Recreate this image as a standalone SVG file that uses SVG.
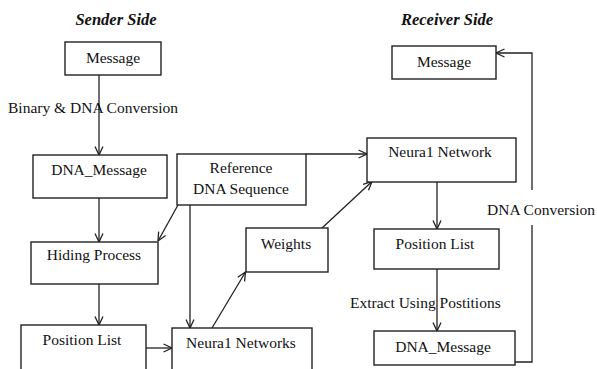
<svg xmlns="http://www.w3.org/2000/svg" width="597" height="369" viewBox="0 0 597 369">
  <defs>
    <marker id="arrow" viewBox="0 0 10 10" refX="9.5" refY="5" markerWidth="10" markerHeight="10" markerUnits="userSpaceOnUse" orient="auto">
      <path d="M1,1 L9.5,5 L1,9" fill="none" stroke="#222" stroke-width="1.3"/>
    </marker>
  </defs>
  <style>
    .box { fill: #fff; stroke: #222; stroke-width: 1.4; }
    .lbl { font-family: "Liberation Serif", "Times New Roman", serif; font-size: 15.5px; fill: #111; }
    .mid { text-anchor: middle; }
    .title { font-family: "Liberation Serif", "Times New Roman", serif; font-size: 16.5px; font-weight: bold; font-style: italic; fill: #111; text-anchor: middle; }
    .wire { fill: none; stroke: #222; stroke-width: 1.3; }
    .arr { marker-end: url(#arrow); }
  </style>
  <rect width="597" height="369" fill="#fff"/>

  <text class="title" x="116" y="25">Sender Side</text>
  <text class="title" x="447" y="25">Receiver Side</text>

  <g id="connectors">
    <!-- sender chain -->
    <line class="wire arr" x1="99" y1="75" x2="99" y2="155"/>
    <line class="wire arr" x1="99" y1="198" x2="99" y2="242"/>
    <line class="wire arr" x1="99" y1="284" x2="99" y2="325"/>
    <line class="wire arr" x1="146" y1="348" x2="172" y2="348"/>
    <!-- reference sequence fan-out -->
    <line class="wire arr" x1="178" y1="205" x2="158" y2="241"/>
    <line class="wire arr" x1="190" y1="205" x2="190" y2="328"/>
    <line class="wire arr" x1="306" y1="154" x2="367" y2="154"/>
    <!-- weights path -->
    <line class="wire arr" x1="212" y1="328" x2="245.5" y2="272"/>
    <line class="wire arr" x1="322" y1="228" x2="372" y2="181.5"/>
    <!-- receiver chain -->
    <line class="wire arr" x1="437" y1="182" x2="437" y2="229"/>
    <line class="wire arr" x1="437" y1="269" x2="437" y2="331"/>
    <polyline class="wire" points="515,362 532,362 532,225"/>
    <polyline class="wire arr" points="532,190 532,53 496,53"/>
  </g>

  <text class="lbl" x="8" y="113">Binary &amp; DNA Conversion</text>
  <text class="lbl" x="350" y="308">Extract Using Postitions</text>
  <text class="lbl" x="487" y="215">DNA Conversion</text>

  <g id="s-message">
    <rect class="box" x="65" y="42" width="96" height="33"/>
    <text class="lbl mid" x="113" y="63">Message</text>
  </g>
  <g id="s-dna-message">
    <rect class="box" x="33" y="155" width="134" height="43"/>
    <text class="lbl mid" x="99" y="175">DNA_Message</text>
  </g>
  <g id="reference">
    <rect class="box" x="177" y="154" width="129" height="51"/>
    <text class="lbl mid" x="241" y="173">Reference</text>
    <text class="lbl mid" x="241" y="194">DNA Sequence</text>
  </g>
  <g id="hiding">
    <rect class="box" x="31" y="242" width="127" height="42"/>
    <text class="lbl mid" x="94" y="260">Hiding Process</text>
  </g>
  <g id="s-position-list">
    <rect class="box" x="21" y="325" width="125" height="52"/>
    <text class="lbl mid" x="82" y="345">Position List</text>
  </g>
  <g id="s-neural-networks">
    <rect class="box" x="172" y="328" width="140" height="50"/>
    <text class="lbl mid" x="241" y="348">Neura1 Networks</text>
  </g>
  <g id="weights">
    <rect class="box" x="246" y="228" width="82" height="44"/>
    <text class="lbl mid" x="286" y="249">Weights</text>
  </g>
  <g id="r-message">
    <rect class="box" x="392" y="46" width="104" height="33"/>
    <text class="lbl mid" x="444" y="67">Message</text>
  </g>
  <g id="r-neural-network">
    <rect class="box" x="367" y="138" width="149" height="44"/>
    <text class="lbl mid" x="440" y="157">Neura1 Network</text>
  </g>
  <g id="r-position-list">
    <rect class="box" x="374" y="229" width="125" height="40"/>
    <text class="lbl mid" x="435" y="249">Position List</text>
  </g>
  <g id="r-dna-message">
    <rect class="box" x="374" y="331" width="141" height="34"/>
    <text class="lbl mid" x="443" y="352">DNA_Message</text>
  </g>
</svg>
